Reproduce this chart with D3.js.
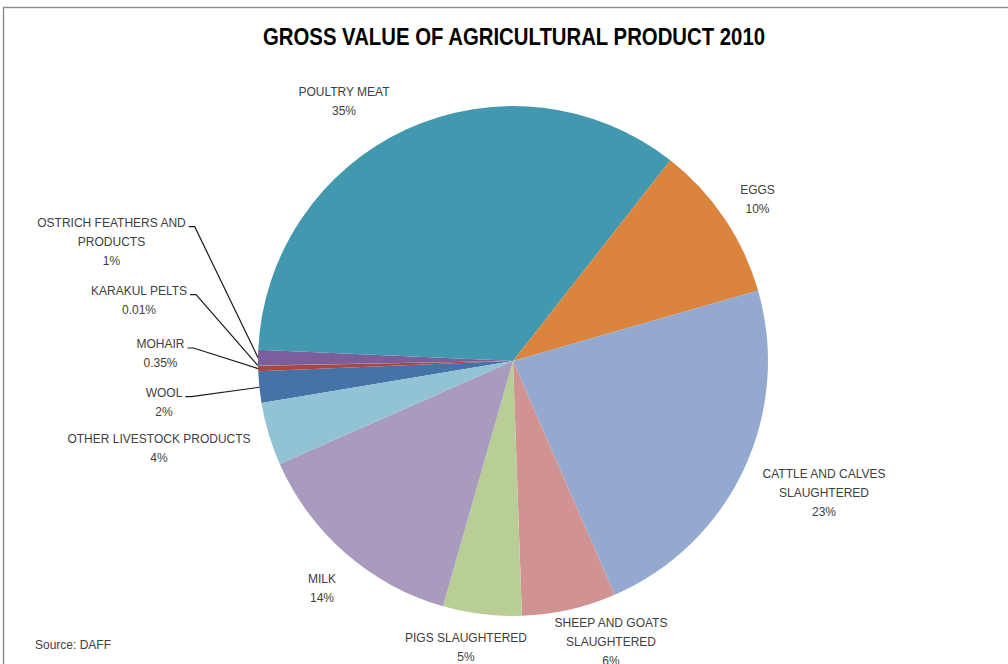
<!DOCTYPE html>
<html>
<head>
<meta charset="utf-8">
<script src="https://cdn.jsdelivr.net/npm/d3@7"></script>
<style>
  body { margin: 0; background: #fff; }
  svg { display: block; }
</style>
</head>
<body>
<svg id="chart" width="1008" height="664"></svg>
<script>
// Gross value of agricultural (animal) products, 2010 — share of total, %
const categories = [
  "WOOL",
  "MOHAIR",
  "KARAKUL PELTS",
  "OSTRICH FEATHERS AND\nPRODUCTS",
  "POULTRY MEAT",
  "EGGS",
  "CATTLE AND CALVES\nSLAUGHTERED",
  "SHEEP AND GOATS\nSLAUGHTERED",
  "PIGS SLAUGHTERED",
  "MILK",
  "OTHER LIVESTOCK PRODUCTS"
];
const shares = [2, 0.35, 0.01, 1, 35, 10, 23, 6, 5, 14, 4];
const shareLabels = ["2%", "0.35%", "0.01%", "1%", "35%", "10%", "23%", "6%", "5%", "14%", "4%"];

// Slice colours, one per category
const sliceColors = ["#4572A7", "#AA4643", "#89A54E", "#7A5F9C", "#4198AF", "#DB843D",
                     "#93A9CF", "#D19392", "#B9CD96", "#A99BBD", "#92C3D4"];

// Label placement: centre x and centre of the first text line; leader = draw a connector
const labelLayout = [
  { x: 164,   y: 392.7, leader: true },
  { x: 160.5, y: 344,   leader: true },
  { x: 139,   y: 290.7, leader: true },
  { x: 111.5, y: 222.7, leader: true },
  { x: 344,   y: 91.7,  leader: false },
  { x: 757.5, y: 189.3, leader: false },
  { x: 824,   y: 473.3, leader: false },
  { x: 611,   y: 623,   leader: false },
  { x: 466,   y: 638,   leader: false },
  { x: 322,   y: 579,   leader: false },
  { x: 159,   y: 439,   leader: false }
];

const W = 1008, H = 664;
const cx = 513, cy = 361, R = 255;
const startDeg = -99.5;
const lineGap = 19;
const labelFont = "'Liberation Sans', Arial, sans-serif";

const svg = d3.select("#chart");

// chart area frame
svg.append("rect")
  .attr("x", 3.5).attr("y", 7.5)
  .attr("width", W + 20).attr("height", H + 20)
  .attr("fill", "#fff")
  .attr("stroke", "#8c8c8c")
  .attr("stroke-width", 1.4);

// title
svg.append("text")
  .attr("x", 514).attr("y", 45)
  .attr("text-anchor", "middle")
  .attr("font-family", labelFont)
  .attr("font-weight", "bold")
  .attr("font-size", 23)
  .attr("fill", "#000")
  .attr("textLength", 502)
  .attr("lengthAdjust", "spacingAndGlyphs")
  .text("GROSS VALUE OF AGRICULTURAL PRODUCT 2010");

const start = startDeg * Math.PI / 180;
const pie = d3.pie().sort(null).value(d => d)
  .startAngle(start).endAngle(start + 2 * Math.PI);
const arcs = pie(shares);
const arc = d3.arc().innerRadius(0).outerRadius(R);

const g = svg.append("g").attr("transform", `translate(${cx},${cy})`);
g.selectAll("path.slice")
  .data(arcs)
  .join("path")
  .attr("class", "slice")
  .attr("d", arc)
  .attr("fill", (d, i) => sliceColors[i]);

// data labels
const labels = svg.append("g")
  .attr("font-family", labelFont)
  .attr("font-size", 12)
  .attr("fill", "#404040")
  .attr("text-anchor", "middle");

arcs.forEach((a, i) => {
  const pos = labelLayout[i];
  const lines = categories[i].split("\n").concat([shareLabels[i]]);
  const t = labels.append("text");
  lines.forEach((ln, k) => {
    t.append("tspan")
      .attr("x", pos.x)
      .attr("y", pos.y + 4.3 + k * lineGap)
      .text(ln);
  });
  if (pos.leader) {
    const firstW = t.select("tspan").node().getComputedTextLength();
    const x0 = pos.x + firstW / 2 + 3;
    const y0 = pos.y + 4;
    const mid = (a.startAngle + a.endAngle) / 2;
    const ex = cx + R * Math.sin(mid);
    const ey = cy - R * Math.cos(mid);
    svg.append("path")
      .attr("d", d3.line()([[x0, y0], [x0 + 6, y0], [ex, ey]]))
      .attr("fill", "none")
      .attr("stroke", "#1a1a1a")
      .attr("stroke-width", 1.2);
  }
});

// source note
svg.append("text")
  .attr("x", 35).attr("y", 649.3)
  .attr("font-family", labelFont)
  .attr("font-size", 12)
  .attr("fill", "#404040")
  .text("Source: DAFF");
</script>
</body>
</html>
